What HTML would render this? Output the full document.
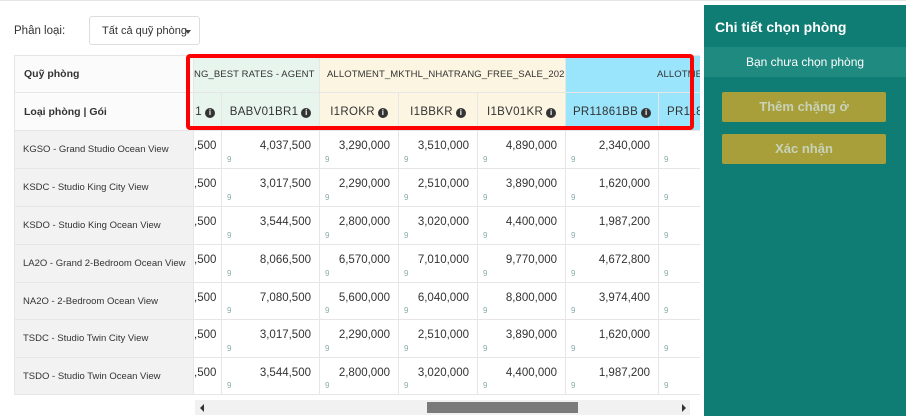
<!DOCTYPE html>
<html><head><meta charset="utf-8"><style>
body{margin:0;width:906px;height:416px;overflow:hidden;background:#fff;font-family:"Liberation Sans",Arial,sans-serif;position:relative}
.top{position:absolute;left:0;top:0;width:906px;height:1px;background:#e4e4e4}
.lbl{position:absolute;left:14px;top:25px;font-size:11.5px;color:#333}
.sel{position:absolute;left:89px;top:16px;width:111px;height:29px;border:1px solid #ddd;border-radius:3px;font-size:11px;color:#333;line-height:29px;box-sizing:border-box;padding-left:12px;white-space:nowrap}
.sel:after{content:"";position:absolute;right:8px;top:13px;border:3.5px solid transparent;border-top:4px solid #444}
.wrap{position:absolute;left:14px;top:55px;width:686px;height:340px;overflow:hidden}
table{border-collapse:collapse;table-layout:fixed;width:706px}
td{border:1px solid #e6e6e6;padding:0;font-size:12px;color:#333;position:relative;box-sizing:border-box}
td.h{background:#fbfbfb;font-weight:bold;font-size:10.5px;padding-left:9px}
td.r{background:#f2f2f2;font-size:9.5px;padding-left:8px;white-space:nowrap;overflow:hidden}
td.g{background:#e7f5ec}td.y{background:#fcf5e1}td.b{background:#9ae4fc}
td.gh{font-size:9.5px;letter-spacing:.1px;text-align:center;white-space:nowrap;overflow:hidden}
td.ch{font-size:11.5px;letter-spacing:.3px;text-align:center;white-space:nowrap;overflow:hidden}
.i{display:inline-block;width:10px;height:10px;border-radius:50%;background:#333;color:#fff;font-size:8px;line-height:10px;text-align:center;margin-left:3px;font-weight:bold;letter-spacing:0}
td.v{vertical-align:top;text-align:right;padding:9px 8px 0 0;font-size:11.5px;white-space:nowrap;overflow:hidden}
td.v span{position:absolute;left:5px;bottom:4px;font-size:8px;color:#8aa}
.red{position:absolute;left:186px;top:54px;width:508px;height:76px;border:4px solid #f00;border-radius:4px;box-sizing:border-box}
.sb{position:absolute;left:195px;top:400px;width:495px;height:15px;background:#f1f1f1}
.th{position:absolute;left:427px;top:402px;width:151px;height:11px;background:#7a7a7a}
.panel{position:absolute;left:704px;top:5px;width:202px;height:411px;background:#0f7d73}
.pt{position:absolute;left:11px;top:14px;color:#fff;font-weight:bold;font-size:14px}
.band{position:absolute;left:0;top:42px;width:202px;height:30px;background:#1f8a80;color:#fff;font-size:12px;text-align:center;line-height:30px}
.btn{position:absolute;left:18px;width:164px;height:30px;background:#a89f3b;border-radius:2px;color:#c8d2b8;font-weight:bold;font-size:13px;text-align:center;line-height:30px}
</style></head><body>
<div class="top"></div>
<div class="lbl">Phân loại:</div>
<div class="sel">Tất cả quỹ phòng</div>
<div class="wrap"><table>
<colgroup><col style="width:179px"><col style="width:28px"><col style="width:98px"><col style="width:79px"><col style="width:79px"><col style="width:88px"><col style="width:93px"><col style="width:62px"></colgroup>
<tr style="height:37px"><td class="h">Quỹ phòng</td><td class="g gh" colspan="2" style="text-align:right;padding-right:10px">NG_BEST RATES - AGENT</td><td class="y gh" colspan="3" style="text-align:left;padding-left:7px">ALLOTMENT_MKTHL_NHATRANG_FREE_SALE_2023</td><td class="b gh" colspan="2" style="text-align:left;padding-left:91px">ALLOTMENT_MKTHL</td></tr>
<tr style="height:38px"><td class="h">Loại phòng | Gói</td><td class="g ch" style="text-align:right;padding-right:6px">1<span class="i">i</span></td><td class="g ch">BABV01BR1<span class="i">i</span></td><td class="y ch">I1ROKR<span class="i">i</span></td><td class="y ch">I1BBKR<span class="i">i</span></td><td class="y ch">I1BV01KR<span class="i">i</span></td><td class="b ch">PR11861BB<span class="i">i</span></td><td class="b ch" style="text-align:left;padding-left:8px">PR11861</td></tr>
<tr style="height:38px"><td class="r">KGSO - Grand Studio Ocean View</td><td class="v">,500</td><td class="v">4,037,500<span>9</span></td><td class="v">3,290,000<span>9</span></td><td class="v">3,510,000<span>9</span></td><td class="v">4,890,000<span>9</span></td><td class="v">2,340,000<span>9</span></td><td class="v"><span>9</span></td></tr>
<tr style="height:38px"><td class="r">KSDC - Studio King City View</td><td class="v">,500</td><td class="v">3,017,500<span>9</span></td><td class="v">2,290,000<span>9</span></td><td class="v">2,510,000<span>9</span></td><td class="v">3,890,000<span>9</span></td><td class="v">1,620,000<span>9</span></td><td class="v"><span>9</span></td></tr>
<tr style="height:38px"><td class="r">KSDO - Studio King Ocean View</td><td class="v">,500</td><td class="v">3,544,500<span>9</span></td><td class="v">2,800,000<span>9</span></td><td class="v">3,020,000<span>9</span></td><td class="v">4,400,000<span>9</span></td><td class="v">1,987,200<span>9</span></td><td class="v"><span>9</span></td></tr>
<tr style="height:38px"><td class="r">LA2O - Grand 2-Bedroom Ocean View</td><td class="v">,500</td><td class="v">8,066,500<span>9</span></td><td class="v">6,570,000<span>9</span></td><td class="v">7,010,000<span>9</span></td><td class="v">9,770,000<span>9</span></td><td class="v">4,672,800<span>9</span></td><td class="v"><span>9</span></td></tr>
<tr style="height:37px"><td class="r">NA2O - 2-Bedroom Ocean View</td><td class="v">,500</td><td class="v">7,080,500<span>9</span></td><td class="v">5,600,000<span>9</span></td><td class="v">6,040,000<span>9</span></td><td class="v">8,800,000<span>9</span></td><td class="v">3,974,400<span>9</span></td><td class="v"><span>9</span></td></tr>
<tr style="height:38px"><td class="r">TSDC - Studio Twin City View</td><td class="v">,500</td><td class="v">3,017,500<span>9</span></td><td class="v">2,290,000<span>9</span></td><td class="v">2,510,000<span>9</span></td><td class="v">3,890,000<span>9</span></td><td class="v">1,620,000<span>9</span></td><td class="v"><span>9</span></td></tr>
<tr style="height:37px"><td class="r">TSDO - Studio Twin Ocean View</td><td class="v">,500</td><td class="v">3,544,500<span>9</span></td><td class="v">2,800,000<span>9</span></td><td class="v">3,020,000<span>9</span></td><td class="v">4,400,000<span>9</span></td><td class="v">1,987,200<span>9</span></td><td class="v"><span>9</span></td></tr>
</table></div>
<div class="red"></div>
<div class="sb"></div><div class="th"></div>
<div style="position:absolute;left:200px;top:404px;border:4px solid transparent;border-right:4px solid #333;border-left:0"></div>
<div style="position:absolute;left:682px;top:404px;border:4px solid transparent;border-left:4px solid #333;border-right:0"></div>
<div class="panel"><div class="pt">Chi tiết chọn phòng</div><div class="band">Bạn chưa chọn phòng</div>
<div class="btn" style="top:87px">Thêm chặng ở</div><div class="btn" style="top:129px">Xác nhận</div></div>
</body></html>
